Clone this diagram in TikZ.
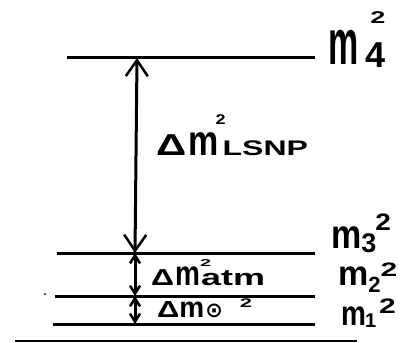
\documentclass[tikz,border=0pt]{standalone}
\usepackage{fontspec}
\setmainfont{Liberation Sans}
\newfontfamily\dvfont{DejaVu Sans}
\usepackage{graphicx}
\usetikzlibrary{arrows.meta}
\newcommand\gl[3]{{\fontsize{#1pt}{#1pt}\selectfont\bfseries\scalebox{1}[#2]{#3}}}
\begin{document}
\begin{tikzpicture}[x=1pt,y=-1pt,
  level/.style={line width=3pt},
  biga/.style={line width=3pt,{Straight Barb[length=16pt,width=22pt,line width=2.5pt]}-{Straight Barb[length=16pt,width=22pt,line width=2.5pt]}},
  smalla/.style={line width=3pt,{Straight Barb[length=8pt,width=10pt,line width=2.5pt]}-{Straight Barb[length=8pt,width=10pt,line width=2.5pt]}},
  lab/.style={inner sep=0pt,anchor=base west}]
\useasboundingbox (0,0) rectangle (403,342);
% levels
\coordinate (l4a) at (67,58);  \coordinate (l4b) at (315,58);
\coordinate (l3a) at (57,253); \coordinate (l3b) at (315,253);
\coordinate (l2a) at (55,296); \coordinate (l2b) at (315,296);
\coordinate (l1a) at (53,324); \coordinate (l1b) at (315,324);
\coordinate (la) at (15,341);  \coordinate (lb) at (357,341);
\draw[level] (l4a) -- (l4b);
\draw[level] (l3a) -- (l3b);
\draw[level] (l2a) -- (l2b);
\draw[level] (l1a) -- (l1b);
\draw[line width=2pt] (la) -- (lb);
\fill (45,294) circle (1pt);
% arrows
\coordinate (t4) at (137,58);
\coordinate (t3) at (135,253);
\coordinate (t2) at (135,296);
\coordinate (t1) at (135,324);
\draw[biga] (t4) -- (t3);
\draw[smalla] (t3) -- (t2);
\draw[smalla] (t2) -- (t1);
% labels
\node[lab] (m4) at (328,65) {\gl{34}{1.87}{m}\hspace{7pt}\rlap{\raisebox{-3pt}{\gl{36}{1}{4}}}\hspace{5pt}\raisebox{41pt}{\gl{27}{0.63}{2}}};
\node[lab] (m3) at (331,248) {\gl{34}{1.19}{m}\raisebox{-4pt}{\gl{27}{1}{3}}\hspace{-1pt}\raisebox{18pt}{\gl{28}{0.85}{2}}};
\node[lab] (m2) at (338,285) {\gl{34}{1.02}{m}\hspace{0pt}\raisebox{-7pt}{\gl{22}{1}{2}}\raisebox{9pt}{\gl{30}{0.65}{2}}};
\node[lab] (m1) at (341,325) {\gl{28}{1.24}{m}\hspace{-1pt}\raisebox{-2pt}{\gl{20}{1}{1}}\hspace{3pt}\raisebox{12pt}{\gl{30}{0.7}{2}}};
\node[lab] (dl) at (156,155) {\gl{42}{0.72}{Δ}\hspace{2pt}\gl{34}{1.25}{m}\hspace{-3pt}\rlap{\raisebox{31pt}{\gl{18}{0.78}{2}}}\hspace{7pt}\gl{32}{0.66}{LSNP}};
\node[lab] (da) at (151,285) {\gl{32}{0.72}{Δ}\hspace{1pt}\gl{28}{1.24}{m}\rlap{\raisebox{19pt}{\gl{20}{0.5}{2}}}\hspace{1pt}\gl{36}{0.63}{atm}};
\node[lab] (ds) at (157,317) {\gl{31}{0.75}{Δ}\gl{28}{1.03}{m}\hspace{1pt}{\dvfont\gl{21}{1}{⊙}}\hspace{17pt}\raisebox{10pt}{\gl{22}{0.57}{2}}};
\end{tikzpicture}
\end{document}
